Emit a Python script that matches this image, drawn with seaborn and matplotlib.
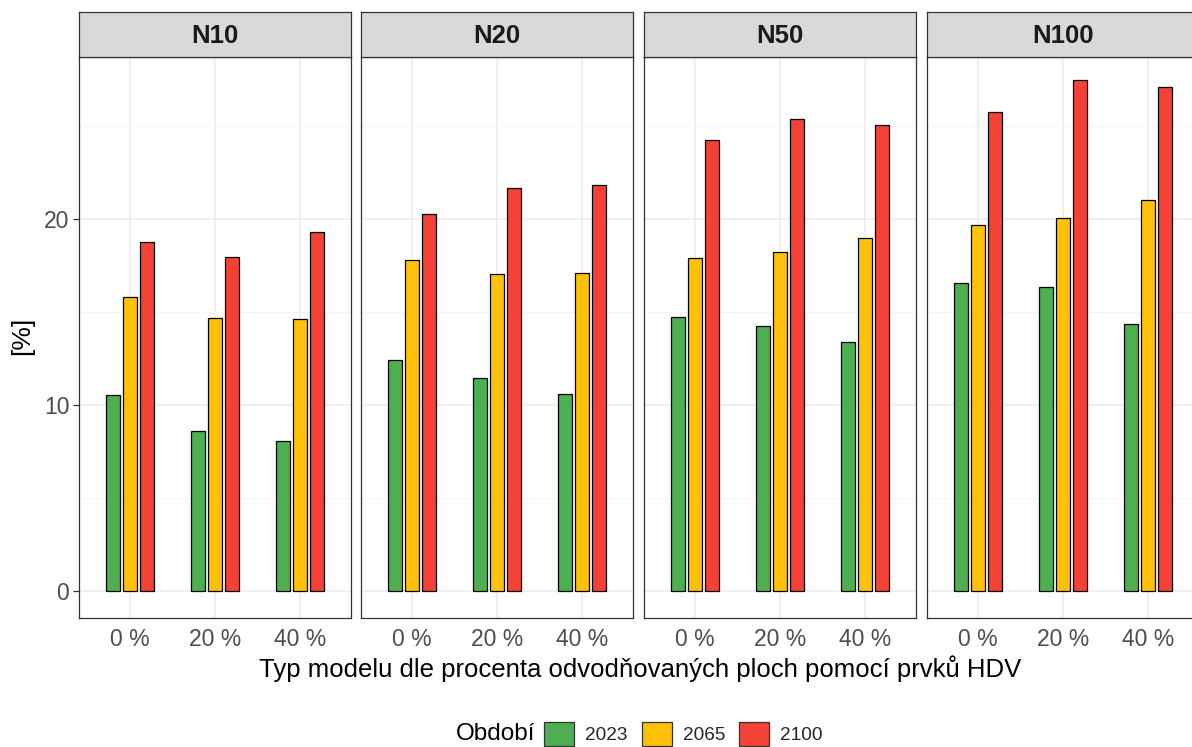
import matplotlib
matplotlib.use("Agg")
import matplotlib.pyplot as plt
import seaborn as sns
import pandas as pd
from matplotlib.patches import Patch

# Data: share [%] by return period, HDV model variant and time period
panels = ["N10", "N20", "N50", "N100"]
models = ["0 %", "20 %", "40 %"]
periods = ["2023", "2065", "2100"]

v_2023 = {
    "N10": [10.55, 8.62, 8.06],
    "N20": [12.42, 11.45, 10.60],
    "N50": [14.73, 14.25, 13.39],
    "N100": [16.55, 16.32, 14.37],
}
v_2065 = {
    "N10": [15.80, 14.69, 14.62],
    "N20": [17.80, 17.04, 17.10],
    "N50": [17.90, 18.23, 18.98],
    "N100": [19.69, 20.06, 21.03],
}
v_2100 = {
    "N10": [18.76, 17.97, 19.32],
    "N20": [20.27, 21.67, 21.83],
    "N50": [24.25, 25.38, 25.05],
    "N100": [25.73, 27.44, 27.07],
}

colors = {"2023": "#4CAF50", "2065": "#FFC107", "2100": "#F44336"}

rows = []
for p in panels:
    for series, per in ((v_2023, "2023"), (v_2065, "2065"), (v_2100, "2100")):
        for m, v in zip(models, series[p]):
            rows.append({"panel": p, "model": m, "period": per, "value": v})
df = pd.DataFrame(rows)

sns.set_theme(style="white")
plt.rcParams["font.family"] = ["Liberation Sans", "DejaVu Sans"]

W, H = 1192, 747
fig = plt.figure(figsize=(W / 100, H / 100), dpi=100)

def box(x0, x1, y0, y1):
    return [x0 / W, 1 - y1 / H, (x1 - x0) / W, (y1 - y0) / H]

lefts = [79, 361, 644, 927]
pw = 272
ytop, ybot, strip_top = 57, 618, 12
ymin, ymax = -1.45, 28.7

for i, (p, x0) in enumerate(zip(panels, lefts)):
    ax = fig.add_axes(box(x0, x0 + pw, ytop, ybot))
    sub = df[df["panel"] == p]
    sns.barplot(data=sub, x="model", y="value", hue="period", order=models,
                hue_order=periods, palette=colors, saturation=1, width=0.6,
                gap=0.12, edgecolor="black", linewidth=0.9, legend=False,
                ax=ax, errorbar=None, zorder=3)
    ax.set_xlim(-0.6, 2.6)
    ax.set_ylim(ymin, ymax)
    ax.set_yticks([0, 10, 20])
    ax.set_yticks([5, 15, 25], minor=True)
    ax.grid(True, which="major", color="#EBEBEB", linewidth=1.1, zorder=0)
    ax.grid(True, which="minor", axis="y", color="#F3F3F3", linewidth=0.6, zorder=0)
    ax.set_axisbelow(True)
    ax.set_xlabel("")
    ax.set_ylabel("")
    for s in ax.spines.values():
        s.set_color("#333333")
        s.set_linewidth(0.9)
    ax.tick_params(axis="x", length=4, color="#333333", width=0.9,
                   labelsize=16.5, labelcolor="#4D4D4D", pad=3.5)
    if i == 0:
        ax.tick_params(axis="y", length=4, color="#333333", width=0.9,
                       labelsize=16.5, labelcolor="#4D4D4D", pad=3, left=True)
    else:
        ax.tick_params(axis="y", left=False, labelleft=False)

    # facet strip
    sax = fig.add_axes(box(x0, x0 + pw, strip_top, ytop))
    sax.set_facecolor("#D9D9D9")
    sax.set_xticks([])
    sax.set_yticks([])
    for s in sax.spines.values():
        s.set_color("#333333")
        s.set_linewidth(0.9)
    sax.text(0.5, 0.47, p, ha="center", va="center", fontsize=18.5,
             fontweight="bold", color="#1A1A1A", transform=sax.transAxes)

fig.text(22 / W, 1 - 336 / H, "[%]", rotation=90, ha="center", va="center",
         fontsize=19, color="black")
fig.text(640 / W, 1 - 669 / H,
         "Typ modelu dle procenta odvodňovaných ploch pomocí prvků HDV",
         ha="center", va="center", fontsize=18.5, color="black")

fig.text(535 / W, 1 - 734 / H, "Období", ha="right", va="center",
         fontsize=17.5, color="black")
handles = [Patch(facecolor=colors[k], edgecolor="#333333", linewidth=0.9, label=k)
           for k in periods]
fig.legend(handles=handles, loc="center left", bbox_to_anchor=(544 / W, 1 - 734 / H),
           ncol=3, frameon=False, fontsize=13.7, handlelength=1.58, handleheight=1.58,
           handletextpad=0.58, columnspacing=0.74, borderpad=0, borderaxespad=0)

fig.savefig("out.png", dpi=100)
